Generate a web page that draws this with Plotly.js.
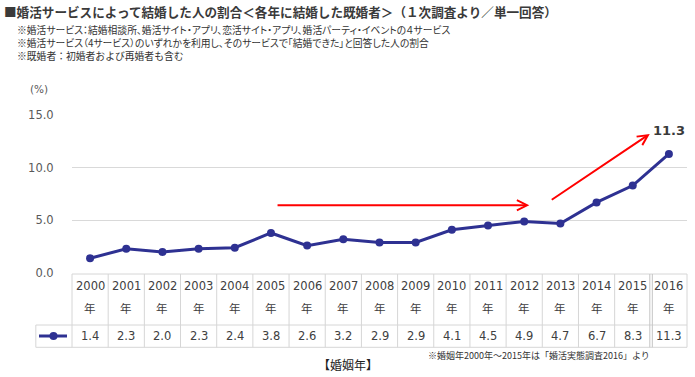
<!DOCTYPE html>
<html>
<head>
<meta charset="utf-8">
<script src="https://cdn.plot.ly/plotly-3.0.1.min.js"></script>
<style>html,body{margin:0;padding:0;background:#fff;}#chart{width:695px;height:377px;}</style>
</head>
<body>
<div id="chart"></div>
<script>
// ---- data ----
const years = ['2000','2001','2002','2003','2004','2005','2006','2007','2008','2009','2010','2011','2012','2013','2014','2015','2016'];
const yearSuffix = '年';
const rates = [1.4, 2.3, 2.0, 2.3, 2.4, 3.8, 2.6, 3.2, 2.9, 2.9, 4.1, 4.5, 4.9, 4.7, 6.7, 8.3, 11.3];
const yTickVals = [0, 5, 10, 15];
const titleText = '■婚活サービスによって結婚した人の割合＜各年に結婚した既婚者＞（１次調査より／単一回答）';
const noteLines = [
  '※婚活サービス：結婚相談所、婚活サイト・アプリ、恋活サイト・アプリ、婚活パーティ・イベントの４サービス',
  '※婚活サービス（4サービス）のいずれかを利用し、そのサービスで「結婚できた」と回答した人の割合',
  '※既婚者：初婚者および再婚者も含む'
];
const unitLabel = '(%)';
const xAxisLabel = '【婚姻年】';
const sourceNote = '※婚姻年2000年～2015年は「婚活実態調査2016」より';
const highlightLabel = '11.3';

// ---- layout helpers ----
const W = 695, H = 377;
const M = {l: 72, r: 8, t: 115, b: 104};
const PW = W - M.l - M.r, PH = H - M.t - M.b;
const px = p => (p - M.l) / PW;          // pixel x -> paper x
const py = p => (H - M.b - p) / PH;       // pixel y -> paper y
const CJK = '"Noto Sans CJK JP", sans-serif';
const NUM = '"DejaVu Sans", "Noto Sans CJK JP", sans-serif';
const lineColor = '#2e3192';
const borderColor = '#d6d6d6';
const textColor = '#404040';
const palt = s => '<span style="font-feature-settings:\'palt\'">' + s + '</span>';

const n = years.length;
const shapes = [];
const tableTop = py(274), rowSplit = py(325), tableBot = py(347.3);
shapes.push({type:'line', xref:'paper', yref:'paper', x0:0, x1:1, y0:tableTop, y1:tableTop, line:{color:borderColor, width:1}});
shapes.push({type:'line', xref:'paper', yref:'paper', x0:-1/n, x1:1, y0:rowSplit, y1:rowSplit, line:{color:borderColor, width:1}});
shapes.push({type:'line', xref:'paper', yref:'paper', x0:-1/n, x1:1, y0:tableBot, y1:tableBot, line:{color:borderColor, width:1}});
shapes.push({type:'line', xref:'paper', yref:'paper', x0:-1/n, x1:-1/n, y0:rowSplit, y1:tableBot, line:{color:borderColor, width:1}});
for (let k = 0; k <= n; k++) {
  if (k === n - 1) {
    shapes.push({type:'line', xref:'paper', yref:'paper', x0:k/n - 1/PW, x1:k/n - 1/PW, y0:tableTop, y1:tableBot, line:{color:'#c4c4c4', width:1}});
    shapes.push({type:'line', xref:'paper', yref:'paper', x0:k/n + 1.5/PW, x1:k/n + 1.5/PW, y0:tableTop, y1:tableBot, line:{color:'#c4c4c4', width:1}});
  } else {
    shapes.push({type:'line', xref:'paper', yref:'paper', x0:k/n, x1:k/n, y0:tableTop, y1:tableBot, line:{color:borderColor, width:1}});
  }
}
shapes.push({type:'line', xref:'paper', yref:'paper', x0:px(39), x1:px(67), y0:py(336), y1:py(336), line:{color:lineColor, width:3}});
shapes.push({type:'circle', xref:'paper', yref:'paper', x0:px(49.5), x1:px(57.5), y0:py(340), y1:py(332), fillcolor:lineColor, line:{color:lineColor, width:0}});

const annotations = [];
annotations.push({xref:'paper', yref:'paper', x:px(3), y:py(11), xanchor:'left', yanchor:'middle', showarrow:false, borderpad:0,
  text:'<b>' + titleText + '</b>', font:{family:CJK, size:12.6, color:'#3a3a3a'}});
noteLines.forEach((t, i) => {
  annotations.push({xref:'paper', yref:'paper', x:px(16), y:py(30 + 13 * i), xanchor:'left', yanchor:'middle', showarrow:false, borderpad:0,
    text:(i < 2 ? palt(t) : t), font:{family:CJK, size:9.8, color:'#333333'}});
});
annotations.push({xref:'paper', yref:'paper', x:px(39), y:py(89), xanchor:'center', yanchor:'middle', showarrow:false,
  text:unitLabel, font:{family:NUM, size:10.5, color:'#595959'}});
years.forEach((yr, i) => {
  annotations.push({xref:'x', yref:'paper', x:i, y:py(285.5), showarrow:false, yanchor:'middle', borderpad:0,
    text:yr, font:{family:NUM, size:11.5, color:textColor}});
  annotations.push({xref:'x', yref:'paper', x:i, y:py(307.5), showarrow:false, yanchor:'middle', borderpad:0,
    text:yearSuffix, font:{family:CJK, size:11.5, color:textColor}});
  annotations.push({xref:'x', yref:'paper', x:i, y:py(336), showarrow:false, yanchor:'middle', borderpad:0,
    text:rates[i].toFixed(1), font:{family:NUM, size:11.5, color:textColor}});
});
annotations.push({xref:'paper', yref:'paper', x:px(348), y:py(364), showarrow:false, xanchor:'center', yanchor:'middle', borderpad:0,
  text:xAxisLabel, font:{family:CJK, size:12, color:'#222222'}});
annotations.push({xref:'paper', yref:'paper', x:px(427), y:py(355), showarrow:false, xanchor:'left', yanchor:'middle', borderpad:0,
  text:sourceNote, font:{family:CJK, size:9, color:'#333333'}});
annotations.push({xref:'x', yref:'y', x:n - 1, y:rates[n-1], yshift:23, showarrow:false,
  text:'<b>' + highlightLabel + '</b>', font:{family:NUM, size:13, color:'#3a3a3a'}});
annotations.push({xref:'x', yref:'y', axref:'x', ayref:'y', x:12.14, y:6.43, ax:5.14, ay:6.43,
  text:'', showarrow:true, arrowhead:5, arrowsize:1, arrowwidth:2, arrowcolor:'#ff0000'});
annotations.push({xref:'x', yref:'y', axref:'x', ayref:'y', x:15.47, y:13.2, ax:12.72, ay:6.86,
  text:'', showarrow:true, arrowhead:5, arrowsize:1, arrowwidth:2, arrowcolor:'#ff0000'});

const trace = {
  type:'scatter', mode:'lines+markers', x:years, y:rates,
  line:{color:lineColor, width:3}, marker:{color:lineColor, size:8},
  hoverinfo:'skip', cliponaxis:false
};

const layout = {
  width:W, height:H, margin:M, paper_bgcolor:'#ffffff', plot_bgcolor:'#ffffff',
  showlegend:false,
  xaxis:{type:'category', range:[-0.5, n - 0.5], showticklabels:false, showgrid:false, zeroline:false, showline:false, ticks:''},
  yaxis:{range:[0, 15], tickvals:yTickVals, tickformat:'.1f', showgrid:true, gridcolor:'#d9d9d9', gridwidth:1,
    zeroline:false, showline:false, ticks:'outside', ticklen:15, tickcolor:'rgba(0,0,0,0)',
    tickfont:{family:NUM, size:11.5, color:'#595959'}},
  shapes:shapes, annotations:annotations
};

Plotly.newPlot('chart', [trace], layout, {staticPlot:true, displayModeBar:false});
</script>
</body>
</html>
